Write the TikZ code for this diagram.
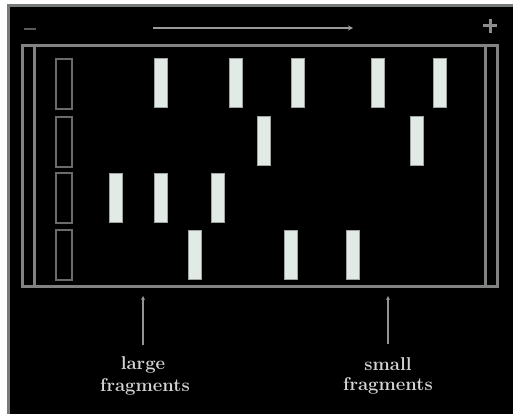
\documentclass[tikz,border=0pt]{standalone}
\usetikzlibrary{arrows.meta}
\definecolor{framegray}{RGB}{118,124,121}
\definecolor{gelgray}{RGB}{128,131,129}
\definecolor{wellgray}{RGB}{105,108,106}
\definecolor{bandfill}{RGB}{226,234,229}
\definecolor{txtgray}{RGB}{212,212,212}
\definecolor{minusgray}{RGB}{90,90,90}
\begin{document}
\begin{tikzpicture}[x=1pt,y=-1pt,
  band/.style={fill=bandfill,draw=bandfill!70!black,line width=0.8pt,minimum width=13pt,minimum height=49pt,inner sep=0pt,outer sep=0pt},
  wellbox/.style={draw=wellgray,line width=2.4pt,minimum width=16pt,minimum height=50pt,inner sep=0pt},
  gelline/.style={draw=gelgray,line width=3pt},
  lbl/.style={text=txtgray,font=\fontsize{18.5}{20}\selectfont\bfseries,inner sep=0pt},
  ptr/.style={draw=gray!85,line width=1.8pt,-{Stealth[length=4pt,width=4pt]}},
  sign/.style={draw=gray!90,line width=3pt}]
\useasboundingbox (0,0) rectangle (513,414);
\fill[white] (0,0) rectangle (513,414);
\fill[black] (7,4) rectangle (513,414);
\draw[framegray,line width=3pt] (8.5,414) -- (8.5,5.5) -- (513,5.5);
% gel slab
\draw[gelline] (22.5,45.5) rectangle (497,286);
\draw[gelline] (34.5,45.5) -- (34.5,286);
\draw[gelline] (485,45.5) -- (485,286);
% electrodes and direction
\coordinate (minus) at (29.5,29);
\draw[sign,draw=minusgray,line width=2.5pt] ([xshift=-6pt]minus) -- ([xshift=6pt]minus);
\coordinate (plus) at (490,26);
\draw[sign] ([xshift=-7pt]plus) -- ([xshift=7pt]plus);
\draw[sign] ([yshift=-7pt]plus) -- ([yshift=7pt]plus);
\coordinate (dirA) at (153,28);
\coordinate (dirB) at (353,28);
\draw[draw=gray!80,line width=2pt,-{Stealth[length=5pt,width=5pt]}] (dirA) -- (dirB);
% wells
\node[wellbox] (w1) at (64,84) {};
\node[wellbox] (w2) at (64,142) {};
\node[wellbox] (w3) at (64,198) {};
\node[wellbox] (w4) at (64,255) {};
% lane 1
\node[band] (b11) at (160.5,83) {};
\node[band] (b12) at (235.5,83) {};
\node[band] (b13) at (298,83) {};
\node[band] (b14) at (377.5,83) {};
\node[band] (b15) at (440,83) {};
% lane 2
\node[band] (b21) at (263.5,141) {};
\node[band] (b22) at (416.5,141) {};
% lane 3
\node[band] (b31) at (115.5,198) {};
\node[band] (b32) at (160.5,198) {};
\node[band] (b33) at (217.5,198) {};
% lane 4
\node[band] (b41) at (195,254.5) {};
\node[band] (b42) at (290.5,254.5) {};
\node[band] (b43) at (353,254.5) {};
% labels
\node[lbl] (large) at (143,365) {large};
\node[lbl] (fragL) at (145,387) {fragments};
\node[lbl] (small) at (388,364) {small};
\node[lbl] (fragS) at (388,386) {fragments};
\coordinate (tipL) at (143,296);
\coordinate (tipS) at (388,296);
\coordinate (baseL) at (143,345);
\coordinate (baseS) at (388,344);
\draw[ptr] (baseL) -- (tipL);
\draw[ptr] (baseS) -- (tipS);
\end{tikzpicture}
\end{document}
